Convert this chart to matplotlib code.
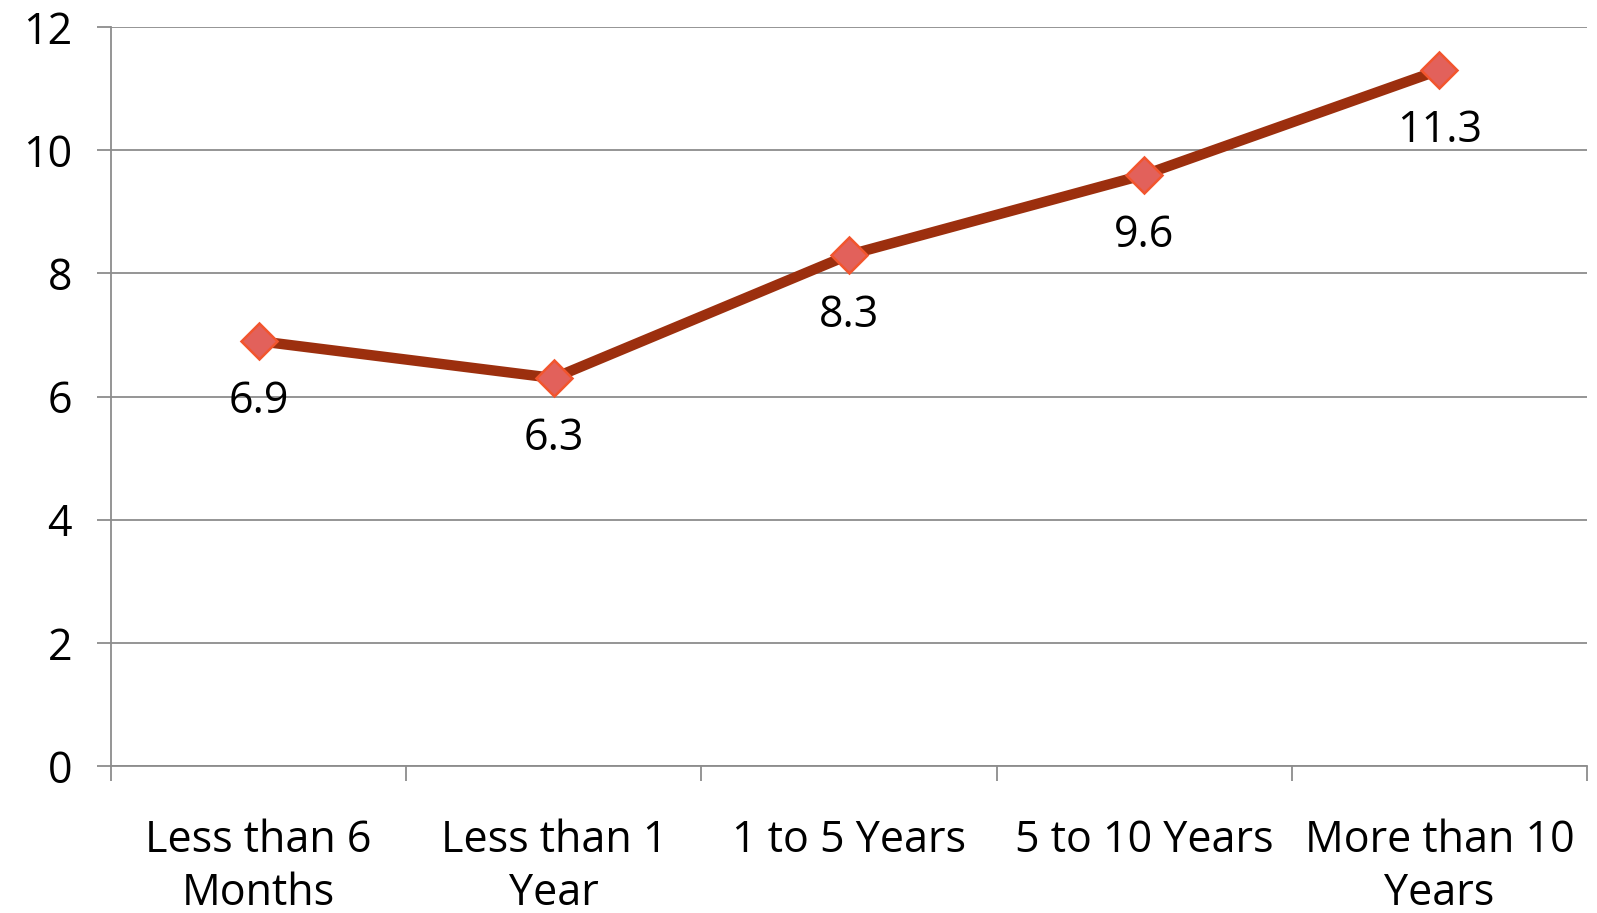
import matplotlib
matplotlib.use("Agg")
import matplotlib.pyplot as plt
import numpy as np

categories = ["Less than 6\nMonths", "Less than 1\nYear", "1 to 5 Years", "5 to 10 Years", "More than 10\nYears"]
values = [6.9, 6.3, 8.3, 9.6, 11.3]
y_ticks = [0, 2, 4, 6, 8, 10, 12]

plt.rcParams['font.family'] = ['Open Sans', 'DejaVu Sans']
FS = 31

fig = plt.figure(figsize=(15.97, 9.13), dpi=100)
ax = fig.add_axes([0.0695, 0.161, 0.9242, 0.8094])

x = np.arange(len(categories))
ax.plot(x, values, color='#9C2F0E', lw=7.5, solid_capstyle='round', zorder=3)
ax.plot(x, values, linestyle='none', marker='D', markersize=18,
        markerfacecolor='#E2615B', markeredgecolor='#F2552E', markeredgewidth=1.8, zorder=4)

for xi, v in zip(x, values):
    ax.annotate(f"{v}", (xi, v), xytext=(0, -44), textcoords='offset points',
                ha='center', va='center', fontsize=FS, color='black')

ax.set_xlim(-0.5, len(categories) - 0.5)
ax.set_ylim(0, 12)
ax.set_yticks(y_ticks)
ax.set_yticklabels([str(t) for t in y_ticks])
ax.yaxis.grid(True, color='#8C8C8C', lw=1.3)
ax.set_axisbelow(True)

ax.set_xticks(x)
ax.set_xticklabels(categories, fontsize=FS, linespacing=1.25)
ax.set_xticks(np.arange(-0.5, len(categories)), minor=True)
ax.tick_params(axis='x', which='major', length=0, pad=38)
ax.tick_params(axis='x', which='minor', length=11, width=1.3, color='#8C8C8C')
ax.tick_params(axis='y', length=10, width=1.3, color='#8C8C8C', labelsize=FS, pad=18)

for s in ['top', 'right']:
    ax.spines[s].set_visible(False)
for s in ['left', 'bottom']:
    ax.spines[s].set_color('#8C8C8C')
    ax.spines[s].set_linewidth(1.3)

fig.savefig("out.png", dpi=100)
